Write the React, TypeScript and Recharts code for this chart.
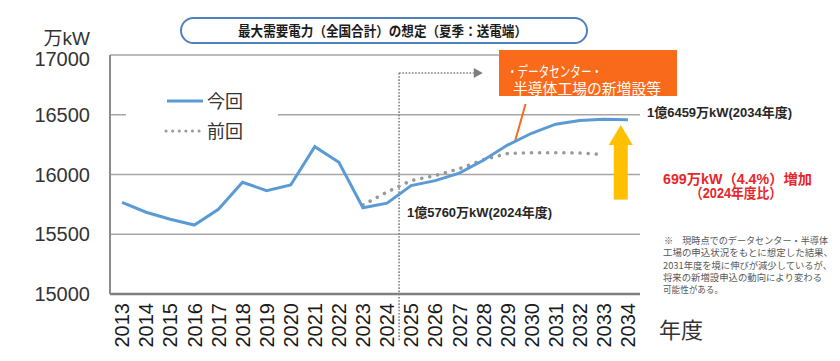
import React from 'react';
import { LineChart, Line, XAxis, YAxis, CartesianGrid, ReferenceLine, ReferenceDot } from 'recharts';

// fiscal years
const years = [2013, 2014, 2015, 2016, 2017, 2018, 2019, 2020, 2021, 2022, 2023, 2024, 2025, 2026, 2027, 2028, 2029, 2030, 2031, 2032, 2033, 2034];
// 今回 (current forecast), 万kW
const current = [15767, 15684, 15625, 15577, 15709, 15935, 15865, 15912, 16233, 16102, 15722, 15760, 15907, 15949, 16011, 16119, 16246, 16345, 16421, 16452, 16462, 16459];
// 前回 (previous forecast), 万kW
const previous = [null, null, null, null, null, null, null, null, null, null, 15745, 15853, 15949, 15991, 16048, 16124, 16175, 16183, 16183, 16180, 16167, null];
const yTicks = [15000, 15500, 16000, 16500, 17000];

const data = years.map((year, i) => ({ year, current: current[i], previous: previous[i] }));

const numFont = '"Liberation Sans", "Noto Sans CJK JP", sans-serif';
const jpFont = '"Noto Sans CJK JP", sans-serif';

const YearTick = ({ x, y, payload }: any) => (
  <text
    x={x}
    y={y}
    transform={`rotate(-90 ${x} ${y})`}
    textAnchor="end"
    dy="0.36em"
    fontSize={20}
    fontFamily={numFont}
    fill="#1a1a1a"
  >
    {payload.value}
  </text>
);

const ValueTick = ({ x, y, payload }: any) => (
  <text
    x={x}
    y={y + (payload.value === 17000 ? 4 : 0)}
    textAnchor="end"
    dy="0.36em"
    fontSize={20}
    fontFamily={numFont}
    fill="#333"
  >
    {payload.value}
  </text>
);

const Triangle = ({ cx, cy }: any) => (
  <polygon points={`${cx},${cy - 5} ${cx + 9},${cy} ${cx},${cy + 5}`} fill="#7f7f7f" />
);

const ArrowHead = ({ cx, cy }: any) => (
  <polygon points={`${cx - 12},${cy + 20} ${cx},${cy} ${cx + 12},${cy + 20}`} fill="#FFC000" />
);

const App: React.FC = () => {
  return (
    <div style={{ position: 'absolute', left: 0, top: 0, width: 840, height: 361, background: '#fff' }}>
      <LineChart width={840} height={361} data={data} margin={{ top: 55, right: 200, left: 0, bottom: 0 }}>
        <CartesianGrid vertical={false} stroke="#a6a6a6" strokeWidth={1.5} />
        <XAxis
          dataKey="year"
          type="number"
          domain={[2012.5, 2034.5]}
          ticks={years}
          interval={0}
          height={67}
          tickLine={false}
          tickSize={0}
          tickMargin={9}
          axisLine={{ stroke: '#7f7f7f', strokeWidth: 2.5 }}
          tick={<YearTick />}
        />
        <YAxis
          domain={[15000, 17000]}
          ticks={yTicks}
          width={110}
          tickLine={false}
          tickSize={0}
          tickMargin={20}
          axisLine={{ stroke: '#8c8c8c', strokeWidth: 2 }}
          tick={<ValueTick />}
        />
        {/* boundary between actual and forecast */}
        <ReferenceLine
          segment={[{ x: 2024.5, y: 16850 }, { x: 2024.5, y: 14600 }]}
          stroke="#7f7f7f"
          strokeWidth={1.6}
          strokeDasharray="1.6 1.6"
          ifOverflow="visible"
        />
        <ReferenceLine
          segment={[{ x: 2024.5, y: 16850 }, { x: 2027.6, y: 16850 }]}
          stroke="#7f7f7f"
          strokeWidth={1.6}
          strokeDasharray="1.6 1.6"
          ifOverflow="visible"
        />
        <ReferenceDot x={2027.6} y={16850} r={0} shape={<Triangle />} ifOverflow="visible" />
        {/* callout connector */}
        <ReferenceLine
          segment={[{ x: 2029.3, y: 16270 }, { x: 2029.75, y: 16590 }]}
          stroke="#f96a1b"
          strokeWidth={2}
          ifOverflow="visible"
        />
        {/* increase arrow */}
        <ReferenceLine
          segment={[{ x: 2033.7, y: 15790 }, { x: 2033.7, y: 16300 }]}
          stroke="#FFC000"
          strokeWidth={14}
          ifOverflow="visible"
        />
        <ReferenceDot x={2033.7} y={16415} r={0} shape={<ArrowHead />} ifOverflow="visible" />
        <Line
          type="linear"
          dataKey="previous"
          stroke="#9a9a9a"
          strokeWidth={3.5}
          strokeDasharray="0.1 8"
          strokeLinecap="round"
          dot={false}
          connectNulls={false}
          isAnimationActive={false}
        />
        <Line
          type="linear"
          dataKey="current"
          stroke="#5b9bd5"
          strokeWidth={3}
          dot={false}
          isAnimationActive={false}
        />
      </LineChart>

      <svg width={840} height={361} style={{ position: 'absolute', left: 0, top: 0, pointerEvents: 'none' }}>
        {/* title */}
        <rect x={181} y={18} width={406} height={25} rx={12.5} fill="#fff" stroke="#4f81bd" strokeWidth={2} />
        <text x={238} y={35.5} fontSize={13.5} fontWeight="bold" fontFamily={jpFont} fill="#1a1a1a" textLength={289} lengthAdjust="spacingAndGlyphs">
          最大需要電力（全国合計）の想定（夏季：送電端）
        </text>

        {/* unit */}
        <text x={90} y={45} textAnchor="end" fontSize={19} fontFamily={numFont} fill="#333">万kW</text>
        <text x={659} y={338} fontSize={22} fontFamily={jpFont} fill="#333">年度</text>

        {/* legend */}
        <rect x={126} y={88} width={152} height={56} fill="#fff" />
        <line x1={167} y1={101} x2={203} y2={101} stroke="#5b9bd5" strokeWidth={3} />
        <text x={207} y={108} fontSize={18} fontFamily={jpFont} fill="#333">今回</text>
        <line x1={166} y1={131} x2={203} y2={131} stroke="#9a9a9a" strokeWidth={3} strokeDasharray="0.1 6.5" strokeLinecap="round" />
        <text x={207} y={138} fontSize={18} fontFamily={jpFont} fill="#333">前回</text>

        {/* callout box */}
        <rect x={499} y={50} width={178} height={46} fill="#f96a1b" />
        <text x={507} y={77} fontSize={14.5} fontFamily={jpFont} fill="#fff" textLength={95} lengthAdjust="spacingAndGlyphs">・データセンター・</text>
        <text x={513} y={94} fontSize={14.5} fontFamily={jpFont} fill="#fff" textLength={148} lengthAdjust="spacingAndGlyphs">半導体工場の新増設等</text>

        {/* value labels */}
        <text x={647} y={117} fontSize={13} fontWeight="bold" fontFamily={numFont} fill="#262626" textLength={145} lengthAdjust="spacingAndGlyphs">1億6459万kW(2034年度)</text>
        <text x={407} y={217} fontSize={13} fontWeight="bold" fontFamily={numFont} fill="#262626" textLength={145} lengthAdjust="spacingAndGlyphs">1億5760万kW(2024年度)</text>

        <text x={663} y={184} fontSize={14} fontWeight="bold" fontFamily={numFont} fill="#e8262b" textLength={149} lengthAdjust="spacingAndGlyphs">699万kW（4.4%）増加</text>
        <text x={690} y={198} fontSize={14} fontWeight="bold" fontFamily={numFont} fill="#e8262b" textLength={92} lengthAdjust="spacingAndGlyphs">（2024年度比）</text>

        {/* note */}
        <g fontSize={9.5} fontFamily={jpFont} fill="#595959">
          <text x={664} y={244} textLength={164} lengthAdjust="spacingAndGlyphs">※　現時点でのデータセンター・半導体</text>
          <text x={663} y={256} textLength={170} lengthAdjust="spacingAndGlyphs">工場の申込状況をもとに想定した結果、</text>
          <text x={663} y={268.5} textLength={169} lengthAdjust="spacingAndGlyphs">2031年度を境に伸びが減少しているが、</text>
          <text x={663} y={281} textLength={159} lengthAdjust="spacingAndGlyphs">将来の新増設申込の動向により変わる</text>
          <text x={663} y={293} textLength={60} lengthAdjust="spacingAndGlyphs">可能性がある。</text>
        </g>
      </svg>
    </div>
  );
};

export default App;
